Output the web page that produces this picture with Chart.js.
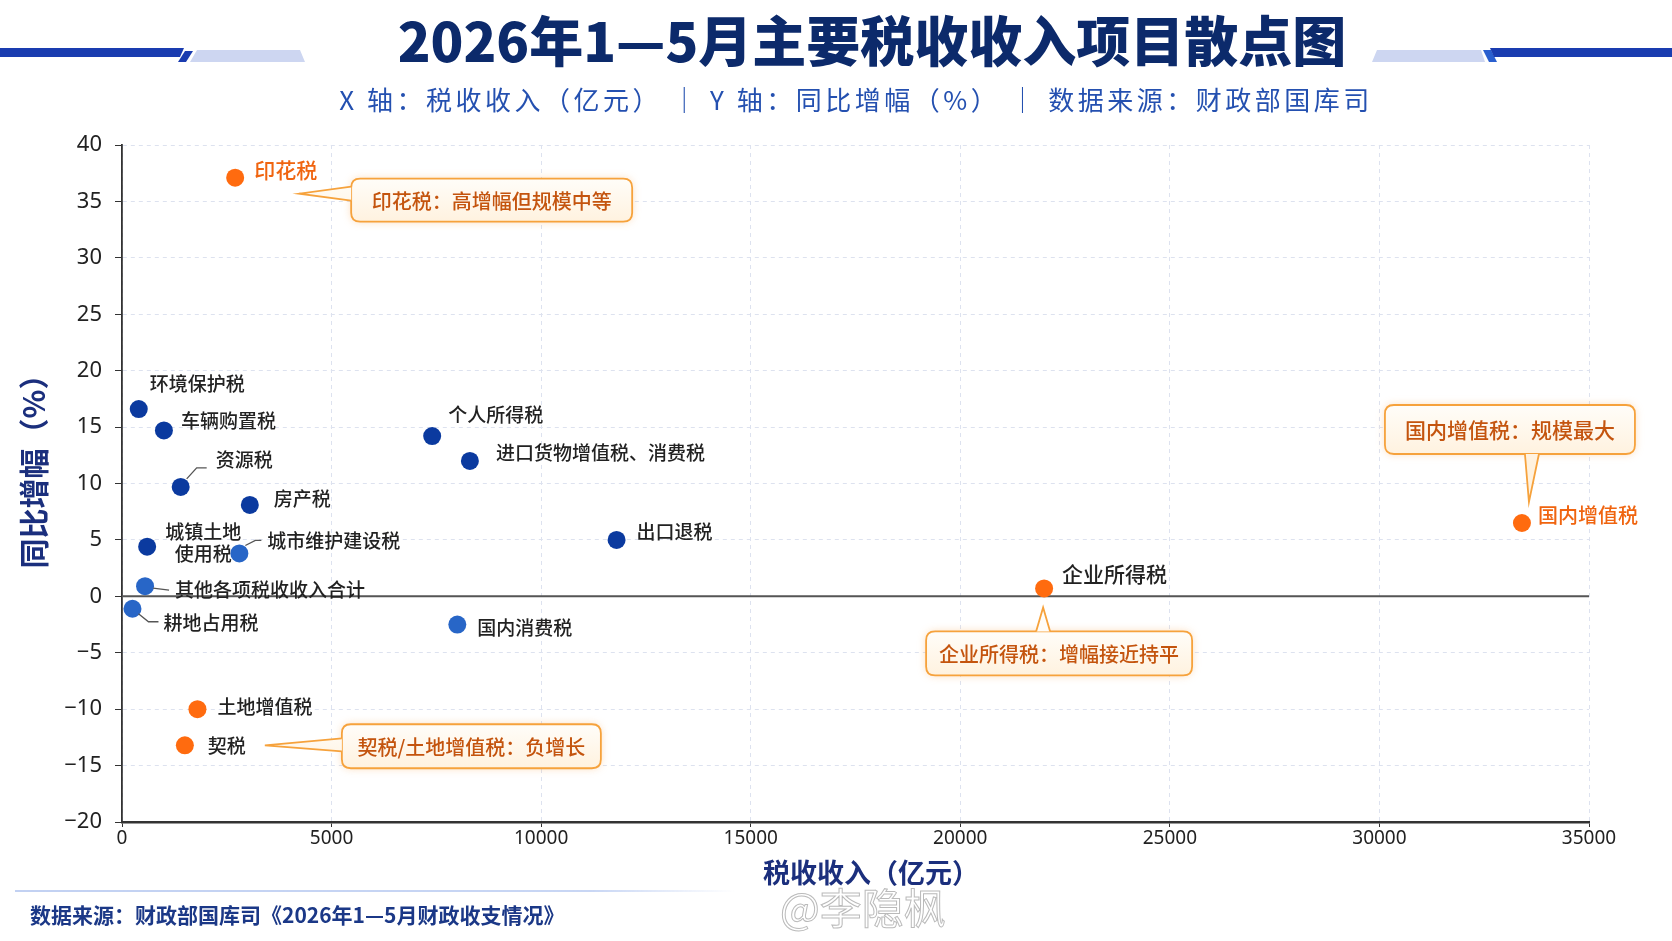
<!DOCTYPE html>
<html>
<head>
<meta charset="utf-8">
<title>2026年1—5月主要税收收入项目散点图</title>
<script src="https://cdn.jsdelivr.net/npm/chart.js@4.4.1/dist/chart.umd.min.js"></script>
<style>
  html, body { margin: 0; padding: 0; background: #fff; }
  #wrap { position: relative; width: 1672px; height: 941px; overflow: hidden;
          font-family: "Noto Sans CJK SC", "Noto Sans", sans-serif; }
  #chart { position: absolute; left: 0; top: 0; }
  .title { position: absolute; left: 36px; top: 7px; width: 1672px; height: 64px; line-height: 64px;
           text-align: center; font-size: 54px; font-weight: 900; color: #0c2a6b; }
  .sub { position: absolute; left: 20px; top: 82px; width: 1672px; height: 34px; line-height: 34px;
         text-align: center; font-size: 26px; color: #2450b0; letter-spacing: 3.5px; }
  .xtitle { position: absolute; left: 721px; top: 852px; width: 300px; height: 40px; line-height: 40px;
            text-align: center; font-size: 27px; font-weight: 700; color: #1b2f7d; }
  .ytitle { position: absolute; left: -88px; top: 444px; width: 240px; height: 40px; line-height: 40px;
            text-align: center; font-size: 30px; font-weight: 700; color: #1b2f7d; transform: rotate(-90deg); }
  .foot-line { position: absolute; left: 15px; top: 890px; width: 720px; height: 2px;
               background: linear-gradient(to right, #c2d1f2, #c8d6f4 80%, rgba(210,222,248,0)); }
  .foot { position: absolute; left: 30px; top: 900px; height: 28px; line-height: 28px;
          font-size: 21px; font-weight: 600; color: #1b3887; }
  .mark { position: absolute; left: 780px; top: 880px; height: 52px; line-height: 52px;
          font-size: 42px; color: rgba(255,255,255,0.7);
          -webkit-text-stroke: 1px rgba(140,140,140,0.6); }
  svg.deco { position: absolute; left: 0; top: 0; }
</style>
</head>
<body>
<div id="wrap">
  <canvas id="chart" width="1672" height="941"></canvas>
  <svg class="deco" width="1672" height="80">
    <polygon points="0,48 184,48 180,57 0,57" fill="#1a3cb0"/>
    <polygon points="185,51 193,51 186,62 178,62" fill="#1a3cb0"/>
    <polygon points="197,50 300,50 305,62 190,62" fill="#cdd6f1"/>
    <polygon points="1377,50 1481,50 1485,62 1372,62" fill="#cdd6f1"/>
    <polygon points="1483,50 1491,50 1497,62 1489,62" fill="#2a5fcf"/>
    <polygon points="1490,48 1672,48 1672,57 1494,57" fill="#1a3cb0"/>
  </svg>
  <div class="title">2026年1—5月主要税收收入项目散点图</div>
  <div class="sub">X 轴：税收收入（亿元） ｜ Y 轴：同比增幅（%） ｜ 数据来源：财政部国库司</div>
  <div class="xtitle">税收收入（亿元）</div>
  <div class="ytitle">同比增幅（%）</div>
  <div class="foot-line"></div>
  <div class="foot">数据来源：财政部国库司《2026年1—5月财政收支情况》</div>
  <div class="mark">@李隐枫</div>
</div>

<script>
// 数据（亿元，%）
var taxNames = ['印花税', '环境保护税', '车辆购置税', '资源税', '房产税', '城镇土地使用税',
  '城市维护建设税', '其他各项税收收入合计', '耕地占用税', '个人所得税', '进口货物增值税、消费税',
  '国内消费税', '出口退税', '企业所得税', '国内增值税', '土地增值税', '契税'];
var taxRevenue = [2700, 400, 1000, 1400, 3050, 600, 2800, 550, 250, 7400, 8300, 8000, 11800, 22000, 33400, 1800, 1500];
var taxGrowth = [37.1, 16.6, 14.7, 9.7, 8.1, 4.4, 3.8, 0.9, -1.1, 14.2, 12.0, -2.5, 5.0, 0.7, 6.5, -10.0, -13.2];
var xTicks = [0, 5000, 10000, 15000, 20000, 25000, 30000, 35000];
var yTicks = [-20, -15, -10, -5, 0, 5, 10, 15, 20, 25, 30, 35, 40];

// 样式
var ORANGE = '#ff6b0f', NAVY = '#0b3a9f', BLUE = '#2866c7';
var dotColors = [ORANGE, NAVY, NAVY, NAVY, NAVY, NAVY, BLUE, BLUE, BLUE, NAVY, NAVY, BLUE, NAVY, ORANGE, ORANGE, ORANGE, ORANGE];

// label offsets from the dot (px)
var labelStyle = [
  {dx: 19, dy: -8, color: '#f0640f', size: 21},
  {dx: 11, dy: -25},
  {dx: 17, dy: -10},
  {dx: 35, dy: -27, leader: [[6, -8], [16, -19], [26, -19]]},
  {dx: 24, dy: -6},
  {dx: 56, dy: -15, lines: ['城镇土地', '使用税'], center: true},
  {dx: 28, dy: -13, leader: [[6, -8], [16, -13], [22, -13]]},
  {dx: 30, dy: 4, leader: [[8, 2], [24, 4]]},
  {dx: 31, dy: 14, leader: [[6, 5], [16, 13], [26, 13]]},
  {dx: 16, dy: -21},
  {dx: 26, dy: -8},
  {dx: 20, dy: 3},
  {dx: 20, dy: -8},
  {dx: 18, dy: -14, size: 21},
  {dx: 16, dy: -8, color: '#f0640f', size: 20},
  {dx: 20, dy: -2},
  {dx: 23, dy: 1}
];

var callouts = [
  {i: 0, text: '印花税：高增幅但规模中等', dx: 116, dy: 1, w: 281, h: 43, side: 'left', tx: 64, ty: 16, b0: 8, b1: 22},
  {i: 14, text: '国内增值税：规模最大', dx: -137, dy: -118, w: 250, h: 49, side: 'bottom', tx: 7, ty: -21, b0: 140, b1: 154, size: 21},
  {i: 13, text: '企业所得税：增幅接近持平', dx: -118, dy: 43, w: 266, h: 44, side: 'top', tx: -1, ty: 19, b0: 110, b1: 124},
  {i: 16, text: '契税/土地增值税：负增长', dx: 157, dy: -21, w: 259, h: 44, side: 'left', tx: 80, ty: 0, b0: 14, b1: 27}
];

var FONT = '"Noto Sans CJK SC", "Noto Sans", sans-serif';

var zeroLine = {
  id: 'zeroLine',
  beforeDatasetsDraw: function(chart) {
    var c = chart.ctx, a = chart.chartArea, y = chart.scales.y.getPixelForValue(0);
    c.save();
    c.strokeStyle = '#555';
    c.lineWidth = 2;
    c.beginPath();
    c.moveTo(a.left, y);
    c.lineTo(a.right, y);
    c.stroke();
    c.restore();
  }
};

var pointLabels = {
  id: 'pointLabels',
  afterDatasetsDraw: function(chart) {
    var c = chart.ctx;
    var pts = chart.getDatasetMeta(0).data;
    c.save();
    c.textBaseline = 'middle';
    for (var i = 0; i < pts.length; i++) {
      var p = pts[i], s = labelStyle[i];
      if (s.leader) {
        c.strokeStyle = '#555';
        c.lineWidth = 1.3;
        c.beginPath();
        c.moveTo(p.x + s.leader[0][0], p.y + s.leader[0][1]);
        for (var k = 1; k < s.leader.length; k++) c.lineTo(p.x + s.leader[k][0], p.y + s.leader[k][1]);
        c.stroke();
      }
      c.fillStyle = s.color || '#222';
      c.font = '500 ' + (s.size || 19) + 'px ' + FONT;
      if (s.lines) {
        c.textAlign = 'center';
        c.fillText(s.lines[0], p.x + s.dx, p.y + s.dy);
        c.fillText(s.lines[1], p.x + s.dx, p.y + s.dy + 22);
      } else {
        c.textAlign = 'left';
        c.fillText(taxNames[i], p.x + s.dx, p.y + s.dy);
      }
    }
    c.restore();
  }
};

function roundRect(c, x, y, w, h, r) {
  c.beginPath();
  c.moveTo(x + r, y);
  c.lineTo(x + w - r, y);
  c.quadraticCurveTo(x + w, y, x + w, y + r);
  c.lineTo(x + w, y + h - r);
  c.quadraticCurveTo(x + w, y + h, x + w - r, y + h);
  c.lineTo(x + r, y + h);
  c.quadraticCurveTo(x, y + h, x, y + h - r);
  c.lineTo(x, y + r);
  c.quadraticCurveTo(x, y, x + r, y);
  c.closePath();
}

var calloutPlugin = {
  id: 'callouts',
  afterDatasetsDraw: function(chart) {
    var c = chart.ctx;
    var pts = chart.getDatasetMeta(0).data;
    callouts.forEach(function(o) {
      var p = pts[o.i];
      var x = p.x + o.dx, y = p.y + o.dy;
      var tipX = p.x + o.tx, tipY = p.y + o.ty;
      var b1, b2;
      if (o.side === 'left') { b1 = [x, y + o.b0]; b2 = [x, y + o.b1]; }
      else if (o.side === 'top') { b1 = [x + o.b0, y]; b2 = [x + o.b1, y]; }
      else { b1 = [x + o.b0, y + o.h]; b2 = [x + o.b1, y + o.h]; }

      var g = c.createLinearGradient(0, y, 0, y + o.h);
      g.addColorStop(0, '#fffdf9');
      g.addColorStop(1, '#fff2df');

      c.save();
      c.shadowColor = 'rgba(246,150,50,0.35)';
      c.shadowBlur = 8;
      roundRect(c, x, y, o.w, o.h, 9);
      c.fillStyle = g;
      c.fill();
      c.restore();

      c.save();
      c.strokeStyle = '#f6a23c';
      c.lineWidth = 1.8;
      roundRect(c, x, y, o.w, o.h, 9);
      c.stroke();
      // pointer
      c.beginPath();
      c.moveTo(b1[0], b1[1]);
      c.lineTo(tipX, tipY);
      c.lineTo(b2[0], b2[1]);
      c.closePath();
      c.fillStyle = g;
      c.fill();
      c.beginPath();
      c.moveTo(b1[0], b1[1]);
      c.lineTo(tipX, tipY);
      c.lineTo(b2[0], b2[1]);
      c.stroke();

      c.fillStyle = '#c4540e';
      c.font = '500 ' + (o.size || 20) + 'px ' + FONT;
      c.textAlign = 'center';
      c.textBaseline = 'middle';
      c.fillText(o.text, x + o.w / 2, y + o.h / 2 + 1);
      c.restore();
    });
  }
};

var points = taxRevenue.map(function(v, i) { return {x: v, y: taxGrowth[i]}; });

var ctx = document.getElementById('chart').getContext('2d');
var chart = new Chart(ctx, {
  type: 'scatter',
  data: {
    datasets: [{
      data: points,
      pointRadius: 9,
      pointHoverRadius: 9,
      pointBorderWidth: 0,
      pointBackgroundColor: dotColors,
      pointBorderColor: dotColors
    }]
  },
  options: {
    responsive: false,
    animation: false,
    layout: { padding: { left: 0, top: 145, right: 83, bottom: 53 } },
    plugins: { legend: { display: false }, tooltip: { enabled: false } },
    scales: {
      x: {
        type: 'linear', min: 0, max: 35000,
        afterBuildTicks: function(s) { s.ticks = xTicks.map(function(v) { return {value: v}; }); },
        afterFit: function(s) { s.height = 66; },
        grid: { color: '#dde2ef', lineWidth: 1, tickColor: '#333', tickLength: 5, tickBorderDash: [] },
        border: { display: true, color: '#333', width: 2.5, dash: [4, 4] },
        ticks: { color: '#222', padding: 0, maxRotation: 0, font: { family: '"Noto Sans", sans-serif', size: 19 },
                 callback: function(v) { return String(v); } },
        title: { display: false }
      },
      y: {
        type: 'linear', min: -20, max: 40,
        afterBuildTicks: function(s) { s.ticks = yTicks.map(function(v) { return {value: v}; }); },
        afterFit: function(s) { s.width = 122; },
        grid: { color: '#dde2ef', lineWidth: 1, tickColor: '#333', tickLength: 7, tickBorderDash: [] },
        border: { display: true, color: '#333', width: 1.8, dash: [4, 4] },
        ticks: { color: '#222', padding: 13, font: { family: '"Noto Sans", sans-serif', size: 22 },
                 callback: function(v) { return v < 0 ? '\u2212' + Math.abs(v) : String(v); } },
        title: { display: false }
      }
    }
  },
  plugins: [zeroLine, pointLabels, calloutPlugin]
});
</script>
</body>
</html>
